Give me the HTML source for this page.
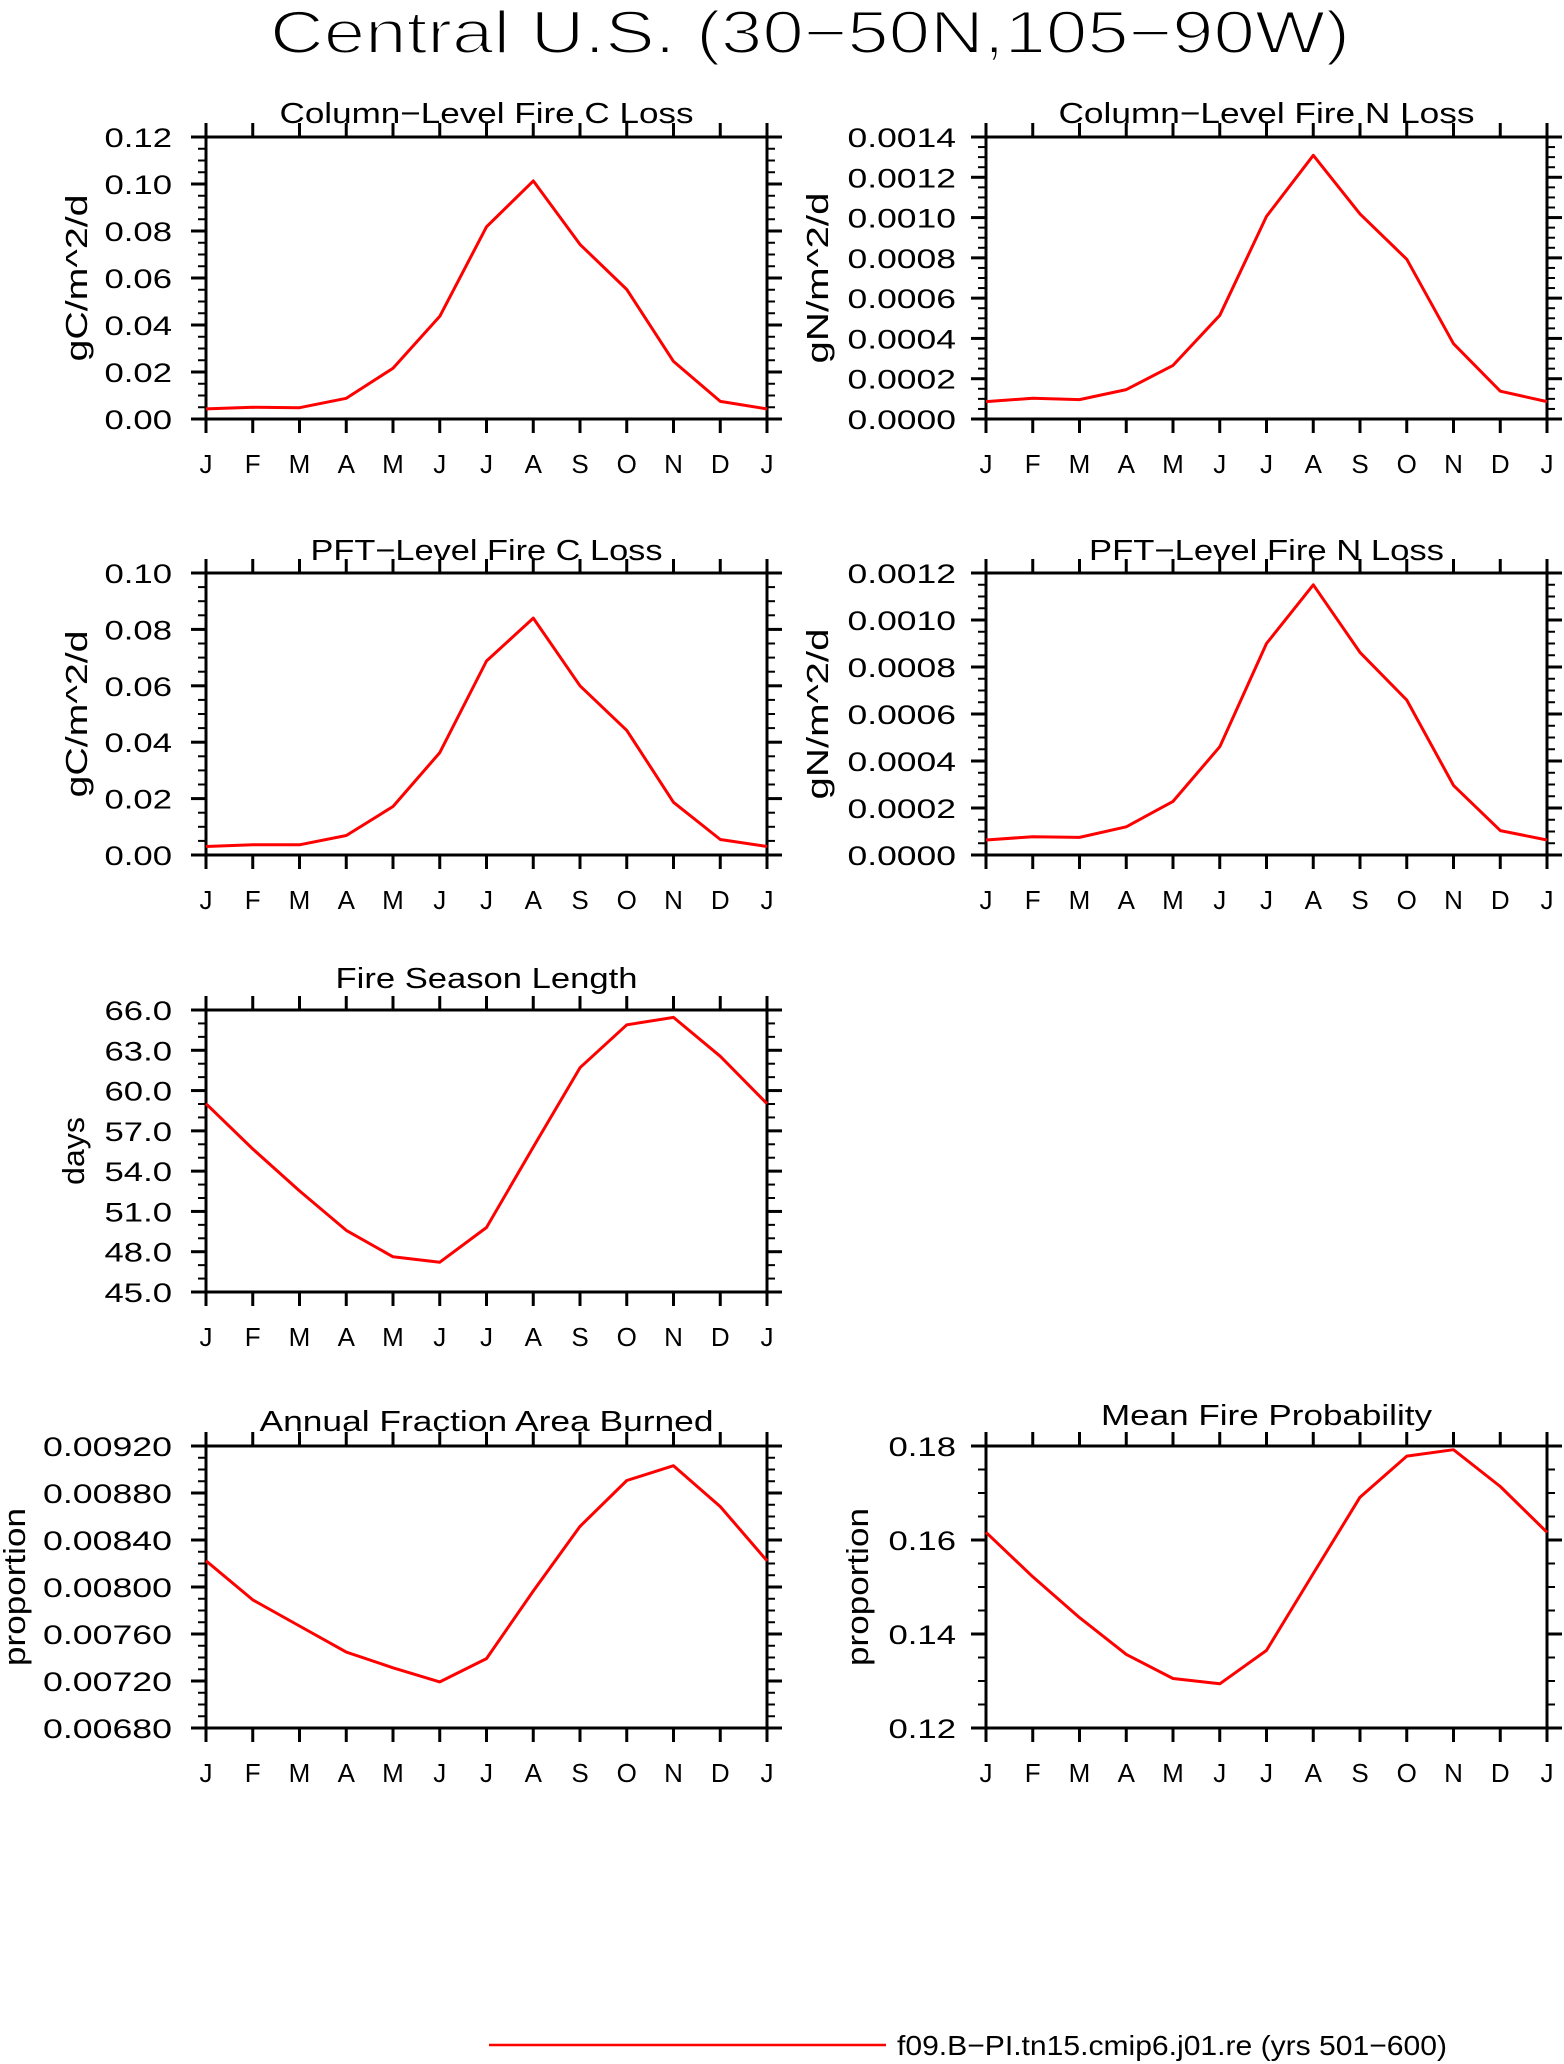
<!DOCTYPE html>
<html><head><meta charset="utf-8"><title>Central U.S. fire diagnostics</title>
<style>
html,body{margin:0;padding:0;background:#fff;}
svg{display:block;font-family:"Liberation Sans",sans-serif;}
</style></head>
<body>
<svg id="fig" width="1564" height="2064" viewBox="0 0 1564 2064" xmlns="http://www.w3.org/2000/svg">
<rect width="1564" height="2064" fill="#fff"/>
<text x="810" y="53" font-size="60" text-anchor="middle" textLength="1080" lengthAdjust="spacingAndGlyphs" stroke="#fff" stroke-width="2">Central U.S. (30−50N,105−90W)</text>
<line x1="489" y1="2045" x2="886" y2="2045" stroke="#ff0000" stroke-width="2.5"/>
<text x="897" y="2055" font-size="28" textLength="550" lengthAdjust="spacingAndGlyphs">f09.B−PI.tn15.cmip6.j01.re (yrs 501−600)</text>
</svg>
<script>
const months = ["J","F","M","A","M","J","J","A","S","O","N","D","J"];
const colCValues = [0.0043,0.005,0.0048,0.0088,0.0216,0.0437,0.0818,0.1013,0.0743,0.0551,0.0245,0.0075,0.0043];
const colNValues = [0.0000865,0.000103,0.0000965,0.000146,0.000266,0.000515,0.001006,0.001309,0.001018,0.000793,0.000374,0.000138,0.0000865];
const pftCValues = [0.0030,0.0036,0.0036,0.0069,0.0172,0.0363,0.0688,0.0840,0.0600,0.0442,0.0187,0.0055,0.0030];
const pftNValues = [0.000064,0.000078,0.000075,0.00012,0.000228,0.000461,0.0009,0.00115,0.000862,0.000659,0.000296,0.000104,0.000064];
const seasonValues = [59.02,55.65,52.53,49.59,47.62,47.22,49.8,55.8,61.7,64.9,65.45,62.55,59.02];
const areaValues = [0.008223,0.00789,0.007668,0.007446,0.007312,0.007192,0.007391,0.007966,0.008516,0.008906,0.009032,0.008684,0.008223];
const probValues = [0.16164,0.15217,0.14349,0.13566,0.13053,0.1294,0.13651,0.15288,0.16911,0.17786,0.17922,0.17139,0.16164];
const colCTicks = ["0.00","0.02","0.04","0.06","0.08","0.10","0.12"];
const colNTicks = ["0.0000","0.0002","0.0004","0.0006","0.0008","0.0010","0.0012","0.0014"];
const pftCTicks = ["0.00","0.02","0.04","0.06","0.08","0.10"];
const pftNTicks = ["0.0000","0.0002","0.0004","0.0006","0.0008","0.0010","0.0012"];
const seasonTicks = ["45.0","48.0","51.0","54.0","57.0","60.0","63.0","66.0"];
const areaTicks = ["0.00680","0.00720","0.00760","0.00800","0.00840","0.00880","0.00920"];
const probTicks = ["0.12","0.14","0.16","0.18"];

const NS="http://www.w3.org/2000/svg";
const svg=document.getElementById('fig');
function mk(tag,attrs,parent){const e=document.createElementNS(NS,tag);for(const k in attrs)e.setAttribute(k,attrs[k]);(parent||svg).appendChild(e);return e;}
function labelLen(s){let w=0;for(const c of s)w+=(c==='.')?6:20.5;return w;}

function panel(o){
  const g=mk('g',{});
  
  
  const x0=o.x,x1=o.x+561,y0=o.y,y1=o.y+282;
  const ticks=o.ticks.map(Number);
  const ymin=ticks[0],ymax=ticks[ticks.length-1];
  const X=i=>x0+(x1-x0)*i/(months.length-1);
  const Y=v=>y1-(y1-y0)*(v-ymin)/(ymax-ymin);
  const step=ticks[1]-ticks[0];
  for(let k=0;k<ticks.length-1;k++){for(let m=1;m<=o.minor;m++){
    const v=ticks[k]+step*m/(o.minor+1);
    const l1=mk('line',{x1:x0-8,x2:x0,y1:Y(v),y2:Y(v),stroke:'#000','stroke-width':2},g);
    
    
    const l2=mk('line',{x1:x1,x2:x1+8,y1:Y(v),y2:Y(v),stroke:'#000','stroke-width':2},g);
    
    
  }}
  o.ticks.forEach((t,i)=>{
    const y=Y(Number(t));
    const l=mk('line',{x1:x0-15,x2:x0,y1:y,y2:y,stroke:'#000','stroke-width':3},g);
    
    
    const r=mk('line',{x1:x1,x2:x1+15,y1:y,y2:y,stroke:'#000','stroke-width':3},g);
    
    
    const tx=mk('text',{x:x0-o.lgap,y:y+10,'font-size':27,'text-anchor':'end',textLength:labelLen(t),lengthAdjust:'spacingAndGlyphs'},g);
    
    
    tx.textContent=t;
  });
  months.forEach((m,i)=>{
    const x=X(i);
    const a=mk('line',{x1:x,x2:x,y1:y0-14,y2:y0,stroke:'#000','stroke-width':3},g);
    
    
    const b=mk('line',{x1:x,x2:x,y1:y1,y2:y1+14,stroke:'#000','stroke-width':3},g);
    
    
    const t=mk('text',{x:x,y:y1+54,'font-size':26,'text-anchor':'middle'},g);
    
    
    t.textContent=m;
  });
  const f=mk('rect',{x:x0,y:y0,width:561,height:282,fill:'none',stroke:'#000','stroke-width':3},g);
  
  
  const pts=o.values.map((v,i)=>X(i).toFixed(1)+','+Y(v).toFixed(1)).join(' ');
  const pl=mk('polyline',{points:pts,fill:'none',stroke:'#ff0000','stroke-width':3,'stroke-linejoin':'round'},g);
  
  
  const tt=mk('text',{x:(x0+x1)/2,y:o.ty,'font-size':29,'text-anchor':'middle',textLength:o.tlen,lengthAdjust:'spacingAndGlyphs'},g);
  
  
  tt.textContent=o.title;
  const yt=mk('text',{x:0,y:0,'font-size':31,'text-anchor':'middle',textLength:o.ylen,lengthAdjust:'spacingAndGlyphs',transform:`translate(${o.yx},${(y0+y1)/2}) rotate(-90)`},g);
  
  
  yt.textContent=o.ytitle;
}
panel({name:'column-fire-c-loss-panel',x:206,y:137,ticks:colCTicks,values:colCValues,minor:3,lgap:34,title:'Column−Level Fire C Loss',tlen:414,ty:123,ytitle:'gC/m^2/d',ylen:167,yx:87});
panel({name:'column-fire-n-loss-panel',x:986,y:137,ticks:colNTicks,values:colNValues,minor:3,lgap:30,title:'Column−Level Fire N Loss',tlen:416,ty:123,ytitle:'gN/m^2/d',ylen:171,yx:828});
panel({name:'pft-fire-c-loss-panel',x:206,y:573,ticks:pftCTicks,values:pftCValues,minor:3,lgap:34,title:'PFT−Level Fire C Loss',tlen:352,ty:560,ytitle:'gC/m^2/d',ylen:167,yx:87});
panel({name:'pft-fire-n-loss-panel',x:986,y:573,ticks:pftNTicks,values:pftNValues,minor:3,lgap:30,title:'PFT−Level Fire N Loss',tlen:355,ty:560,ytitle:'gN/m^2/d',ylen:171,yx:828});
panel({name:'fire-season-length-panel',x:206,y:1010,ticks:seasonTicks,values:seasonValues,minor:2,lgap:34,title:'Fire Season Length',tlen:302,ty:988,ytitle:'days',ylen:68,yx:84});
panel({name:'annual-fraction-area-burned-panel',x:206,y:1446,ticks:areaTicks,values:areaValues,minor:3,lgap:34,title:'Annual Fraction Area Burned',tlen:454,ty:1431,ytitle:'proportion',ylen:158,yx:25});
panel({name:'mean-fire-probability-panel',x:986,y:1446,ticks:probTicks,values:probValues,minor:3,lgap:30,title:'Mean Fire Probability',tlen:331,ty:1425,ytitle:'proportion',ylen:158,yx:868});
</script>
</body></html>
